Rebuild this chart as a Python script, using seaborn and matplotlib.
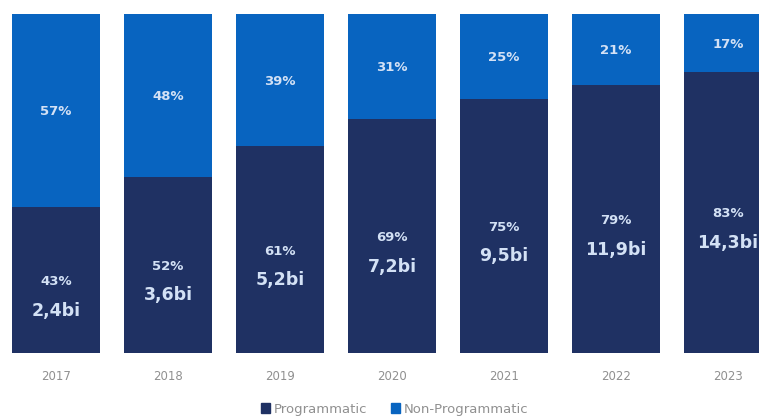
import seaborn as sns
import matplotlib.pyplot as plt
import pandas as pd
from matplotlib.patches import Patch

years = ["2017", "2018", "2019", "2020", "2021", "2022", "2023"]
programmatic = [43, 52, 61, 69, 75, 79, 83]
non_programmatic = [57, 48, 39, 31, 25, 21, 17]
volume = ["2,4bi", "3,6bi", "5,2bi", "7,2bi", "9,5bi", "11,9bi", "14,3bi"]

dark = "#1f3163"
light = "#0864c0"
label_col = "#d3e1f5"

df = pd.DataFrame({"year": years, "prog": programmatic, "nonprog": non_programmatic})
df["total"] = df["prog"] + df["nonprog"]

sns.set_style("white")
fig = plt.figure(figsize=(7.59, 4.18), dpi=100)
ax = fig.add_axes([0, 65 / 418, 1, 339 / 418])

# stacked: full bar in light blue, programmatic share on top of it in dark
sns.barplot(data=df, x="year", y="total", color=light, width=0.785, saturation=1,
            linewidth=0, ax=ax)
sns.barplot(data=df, x="year", y="prog", color=dark, width=0.785, saturation=1,
            linewidth=0, ax=ax)

for i in range(len(years)):
    p = programmatic[i]
    n = non_programmatic[i]
    ax.text(i, p + n / 2 - 0.4, f"{n}%", ha="center", va="center", color=label_col,
            fontsize=9.5, fontweight="bold")
    ax.text(i, p / 2 - 0.45, f"{p}%", ha="center", va="center", color=label_col,
            fontsize=9.5, fontweight="bold")
    ax.text(i, p / 2 - 9.0, volume[i], ha="center", va="center", color=label_col,
            fontsize=12.5, fontweight="bold")

ax.set_xlim(-0.5, -0.5 + 759 / 112)
ax.set_ylim(0, 100)
ax.set_xlabel("")
ax.set_ylabel("")
ax.set_yticks([])
ax.tick_params(axis="x", length=0, pad=12, labelsize=8.5, labelcolor="#909090")
sns.despine(ax=ax, left=True, bottom=True, top=True, right=True)

handles = [Patch(color=dark, label="Programmatic"), Patch(color=light, label="Non-Programmatic")]
fig.legend(handles=handles, loc="center", bbox_to_anchor=(0.52, 1 - 409 / 418), ncol=2,
           frameon=False, fontsize=9.5, labelcolor="#909090", handlelength=0.7,
           handleheight=0.7, handletextpad=0.3, columnspacing=1.8)

fig.savefig("out.png", dpi=100)
